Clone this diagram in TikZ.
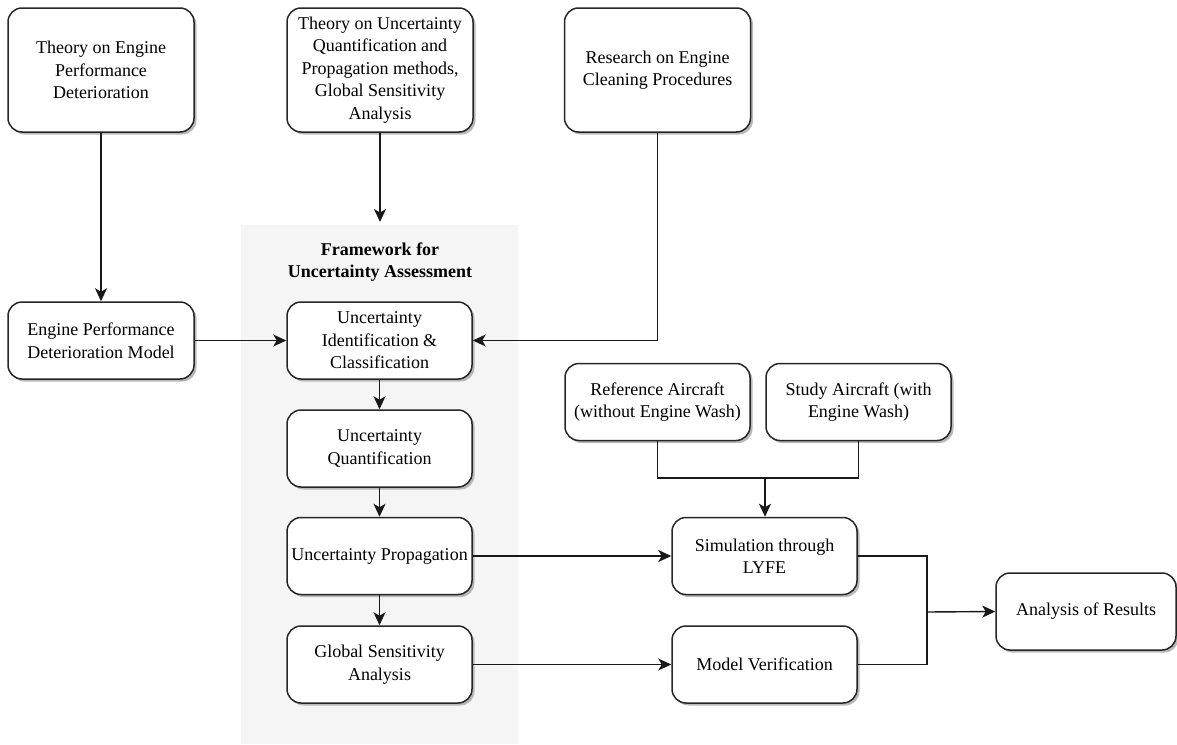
\documentclass[tikz,border=0pt]{standalone}
\usepackage{fontspec}
\setmainfont{Liberation Serif}
\usetikzlibrary{arrows.meta,shadows}
\begin{document}
\begin{tikzpicture}[x=1pt,y=-1pt,
  box/.style={draw=black!85,line width=1.5pt,rounded corners=14pt,fill=white,
    align=center,inner sep=2pt,font=\fontsize{18}{22.5}\selectfont,
    drop shadow={shadow xshift=2.5pt,shadow yshift=-2.5pt,fill=black!30,opacity=0.9}},
  tall/.style={box,minimum width=186pt,minimum height=124pt},
  flat/.style={box,minimum width=185pt,minimum height=77pt},
  conn/.style={draw=black!90,line width=1.4pt},
  arr/.style={conn,-{Stealth[length=13pt,width=12pt,inset=3.5pt]}}]
\useasboundingbox (0,0) rectangle (1177,744);
% shaded framework panel
\fill[black!4] (241,225) rectangle (518,744);
\node[font=\bfseries\fontsize{18}{22.5}\selectfont,align=center] (ftitle) at (380,262)
  {Framework for\\Uncertainty Assessment};

% source boxes
\node[tall] (thperf) at (101,70) {Theory on Engine\\Performance\\Deterioration};
\node[tall] (thuq) at (380,70) {Theory on Uncertainty\\Quantification and\\Propagation methods,\\Global Sensitivity\\Analysis};
\node[tall] (clean) at (657.5,70) {Research on Engine\\Cleaning Procedures};

% framework steps
\node[flat,minimum width=186pt] (model) at (101,340.5) {Engine Performance\\Deterioration Model};
\node[flat] (ident) at (379.5,340.5) {Uncertainty\\Identification \&\\Classification};
\node[flat] (quant) at (379.5,448.5) {Uncertainty\\Quantification};
\node[flat] (prop) at (379.5,556) {Uncertainty Propagation};
\node[flat] (gsa) at (379.5,664.5) {Global Sensitivity\\Analysis};

% aircraft cases and evaluation
\node[flat] (refac) at (657.5,402) {Reference Aircraft\\(without Engine Wash)};
\node[flat] (study) at (858.5,402) {Study Aircraft (with\\Engine Wash)};
\node[flat] (sim) at (764.5,556) {Simulation through\\LYFE};
\node[flat] (verif) at (764.5,664.5) {Model Verification};
\node[flat,minimum width=180pt] (results) at (1086,611.5) {Analysis of Results};

\coordinate (uqin) at (380,222);
\coordinate (merge) at (765,478);
\coordinate (join) at (927,612);

% connectors
\draw[arr] (thperf.south) -- (model.north);
\draw[arr] (thuq.south) -- (uqin);
\draw[arr] (clean.south) |- (ident.east);
\draw[arr] (model.east) -- (ident.west);
\draw[arr] (ident) -- (quant);
\draw[arr] (quant) -- (prop);
\draw[arr] (prop) -- (gsa);
\draw[conn] (refac.south) |- (merge) -| (study.south);
\draw[arr] (merge) -- (sim.north -| merge);
\draw[arr] (prop.east) -- (sim.west);
\draw[arr] (gsa.east) -- (verif.west);
\draw[conn] (sim.east) -| (join);
\draw[conn] (verif.east) -| (join);
\draw[arr] (join) -- (results.west);
\end{tikzpicture}
\end{document}
